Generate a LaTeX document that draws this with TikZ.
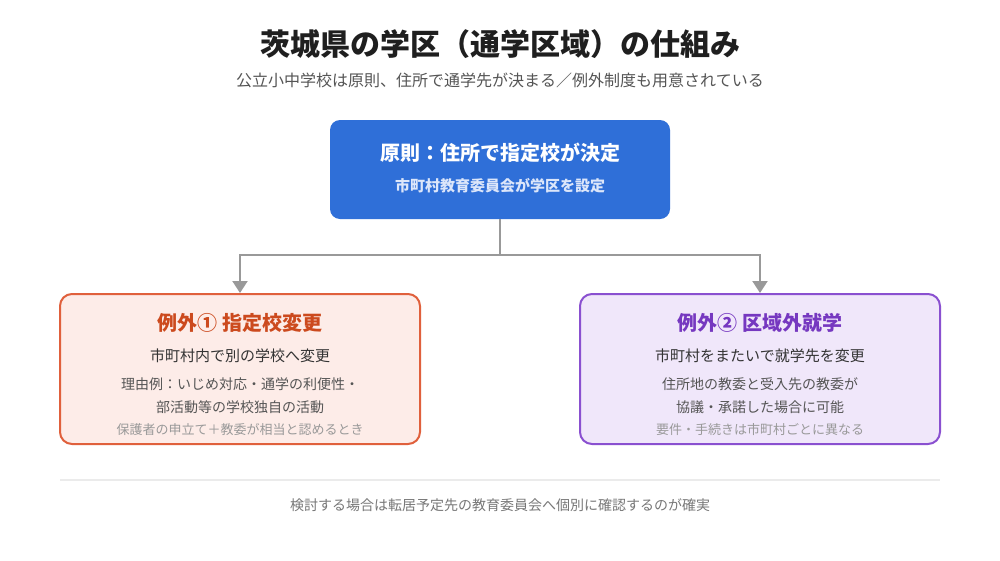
\documentclass[tikz,border=0pt]{standalone}
\usepackage{fontspec}
\setmainfont{Noto Sans CJK JP}
\usetikzlibrary{arrows.meta}
\definecolor{bluebox}{HTML}{2F6FD8}
\definecolor{bluesub}{HTML}{DCE6FA}
\definecolor{redfill}{HTML}{FDECE8}
\definecolor{redline}{HTML}{E0603C}
\definecolor{redtext}{HTML}{CC4A1E}
\definecolor{purfill}{HTML}{F0E7FA}
\definecolor{purline}{HTML}{8A50D0}
\definecolor{purtext}{HTML}{7638C0}
\definecolor{conn}{HTML}{999999}
\definecolor{txtdark}{HTML}{333333}
\definecolor{txtmid}{HTML}{555555}
\definecolor{txtfoot}{HTML}{777777}
\definecolor{txtlight}{HTML}{999999}
\definecolor{sep}{HTML}{EBEBEB}
\newcommand{\fsz}[1]{\fontsize{#1}{#1}\selectfont}
\tikzset{
  box/.style={rounded corners=10pt, minimum width=340pt, minimum height=99pt, inner sep=0pt},
  exbox/.style={rounded corners=12pt, line width=2pt, minimum width=360pt, minimum height=150pt, inner sep=0pt},
  lbl/.style={inner sep=0pt, anchor=center},
  connector/.style={draw=conn, line width=2pt, -{Triangle[length=12pt,width=15pt]}},
}
\begin{document}
\begin{tikzpicture}[x=1pt,y=-1pt]
\useasboundingbox[fill=white] (0,0) rectangle (1000,560);
% title
\node[lbl, font=\fsz{30}\bfseries, text=black!88] (title) at (500,44) {茨城県の学区（通学区域）の仕組み};
\node[lbl, font=\fsz{16}, text=txtmid] (subtitle) at (500,80) {公立小中学校は原則、住所で通学先が決まる／例外制度も用意されている};
% top box
\node[box, fill=bluebox] (top) at (500,169.5) {};
\node[lbl, font=\fsz{20}\bfseries, text=white] (toptitle) at (500,153) {原則：住所で指定校が決定};
\node[lbl, font=\fsz{15}\bfseries, text=bluesub] (topsub) at (500,186) {市町村教育委員会が学区を設定};
% left box
\node[exbox, draw=redline, fill=redfill] (left) at (240,369) {};
\node[lbl, font=\fsz{20}\bfseries, text=redtext] (lt) at (240,323) {例外① 指定校変更};
\node[lbl, font=\fsz{15}, text=txtdark] (l1) at (240,356) {市町村内で別の学校へ変更};
\node[lbl, font=\fsz{14}, text=txtmid] (l2) at (240,384) {理由例：いじめ対応・通学の利便性・};
\node[lbl, font=\fsz{14}, text=txtmid] (l3) at (240,407) {部活動等の学校独自の活動};
\node[lbl, font=\fsz{13}, text=txtlight] (l4) at (240,430) {保護者の申立て＋教委が相当と認めるとき};
% right box
\node[exbox, draw=purline, fill=purfill] (right) at (760,369) {};
\node[lbl, font=\fsz{20}\bfseries, text=purtext] (rt) at (760,323) {例外② 区域外就学};
\node[lbl, font=\fsz{15}, text=txtdark] (r1) at (760,356) {市町村をまたいで就学先を変更};
\node[lbl, font=\fsz{14}, text=txtmid] (r2) at (760,384) {住所地の教委と受入先の教委が};
\node[lbl, font=\fsz{14}, text=txtmid] (r3) at (760,407) {協議・承諾した場合に可能};
\node[lbl, font=\fsz{13}, text=txtlight] (r4) at (760,430) {要件・手続きは市町村ごとに異なる};
% connectors
\coordinate (j) at (500,255);
\draw[draw=conn, line width=2pt] (top.south) -- (j);
\draw[connector] (j) -| (left.north);
\draw[connector] (j) -| (right.north);
% separator and footer
\coordinate (s1) at (60,480);
\coordinate (s2) at (940,480);
\draw[draw=sep, line width=1.5pt] (s1) -- (s2);
\node[lbl, font=\fsz{14}, text=txtfoot] (footer) at (500,505) {検討する場合は転居予定先の教育委員会へ個別に確認するのが確実};
\end{tikzpicture}
\end{document}
